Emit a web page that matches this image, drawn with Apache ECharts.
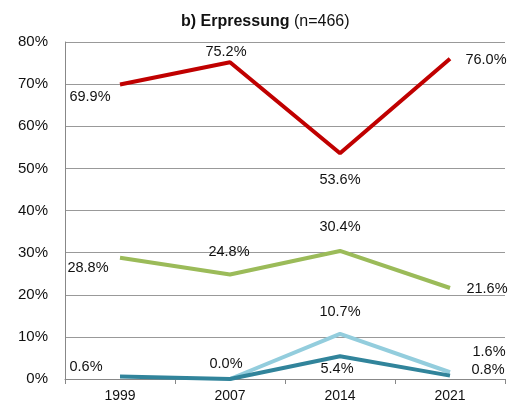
<!DOCTYPE html>
<html><head><meta charset="utf-8">
<script src="https://cdn.jsdelivr.net/npm/echarts@6/dist/echarts.min.js"></script>
<style>html,body{margin:0;padding:0;background:#fff}#c{width:508px;height:411px}</style>
</head><body><div id="c"></div>
<script>
const categories = ['1999', '2007', '2014', '2021'];
const yTicks = [0, 10, 20, 30, 40, 50, 60, 70, 80];
const seriesNames = ['A', 'B', 'C', 'D'];
const redValues = [69.9, 75.2, 53.6, 76.0];
const greenValues = [28.8, 24.8, 30.4, 21.6];
const lightBlueValues = [null, 0.0, 10.7, 1.6];
const tealValues = [0.6, 0.0, 5.4, 0.8];

// label offsets (style only)
const redOff = [[-30, 12], [-4, -10], [0, 27], [36, 1]];
const greenOff = [[-32, 10], [-1, -23], [0, -24], [37, 1]];
const lightOff = [null, null, [0, -22], [39, -20]];
const tealOff = [[-34, -9], [-4, -15], [-3, 13], [38, -6]];

function mk(values, offs) {
  return values.map((v, i) => {
    if (v === null) return null;
    const o = offs[i];
    return {
      value: v,
      label: o ? { show: true, position: 'inside', offset: o } : { show: false }
    };
  });
}
const lbl = { show: true, position: 'inside', formatter: p => p.value.toFixed(1) + '%', color: '#111', fontSize: 14.5, fontFamily: 'Liberation Sans, Arial, sans-serif' };
function line(name, color, values, offs, z) {
  return {
    name, type: 'line', data: mk(values, offs), z,
    symbol: 'circle', symbolSize: 0.1, showSymbol: true,
    lineStyle: { color, width: 4 }, itemStyle: { color },
    label: lbl, animation: false, connectNulls: false,
    emphasis: { disabled: true }
  };
}
const chart = echarts.init(document.getElementById('c'));
chart.setOption({
  animation: false,
  title: {
    text: '{b|b) Erpressung}{n| (n=466)}',
    left: 176, top: 9,
    textStyle: { rich: {
      b: { fontWeight: 'bold', fontSize: 16, color: '#111', fontFamily: 'Liberation Sans, Arial, sans-serif' },
      n: { fontWeight: 'normal', fontSize: 16, color: '#111', fontFamily: 'Liberation Sans, Arial, sans-serif' }
    } }
  },
  grid: { left: 65, right: 3, top: 42, bottom: 32, containLabel: false },
  xAxis: {
    type: 'category', data: categories, boundaryGap: true,
    axisLine: { lineStyle: { color: '#888', width: 1 } },
    axisTick: { show: true, length: 5, lineStyle: { color: '#888' } },
    axisLabel: { color: '#111', fontSize: 14, margin: 10, fontFamily: 'Liberation Sans, Arial, sans-serif' }
  },
  yAxis: {
    type: 'value', min: yTicks[0], max: yTicks[yTicks.length - 1], interval: 10,
    axisLine: { show: true, lineStyle: { color: '#888', width: 1 } },
    axisTick: { show: false },
    splitLine: { lineStyle: { color: '#999', width: 1 } },
    axisLabel: { color: '#111', fontSize: 15, margin: 17, formatter: '{value}%', fontFamily: 'Liberation Sans, Arial, sans-serif' }
  },
  series: [
    line(seriesNames[0], '#C00000', redValues, redOff, 4),
    line(seriesNames[1], '#9BBB59', greenValues, greenOff, 3),
    line(seriesNames[2], '#93CDDD', lightBlueValues, lightOff, 2),
    line(seriesNames[3], '#31849B', tealValues, tealOff, 5)
  ]
});
</script></body></html>
